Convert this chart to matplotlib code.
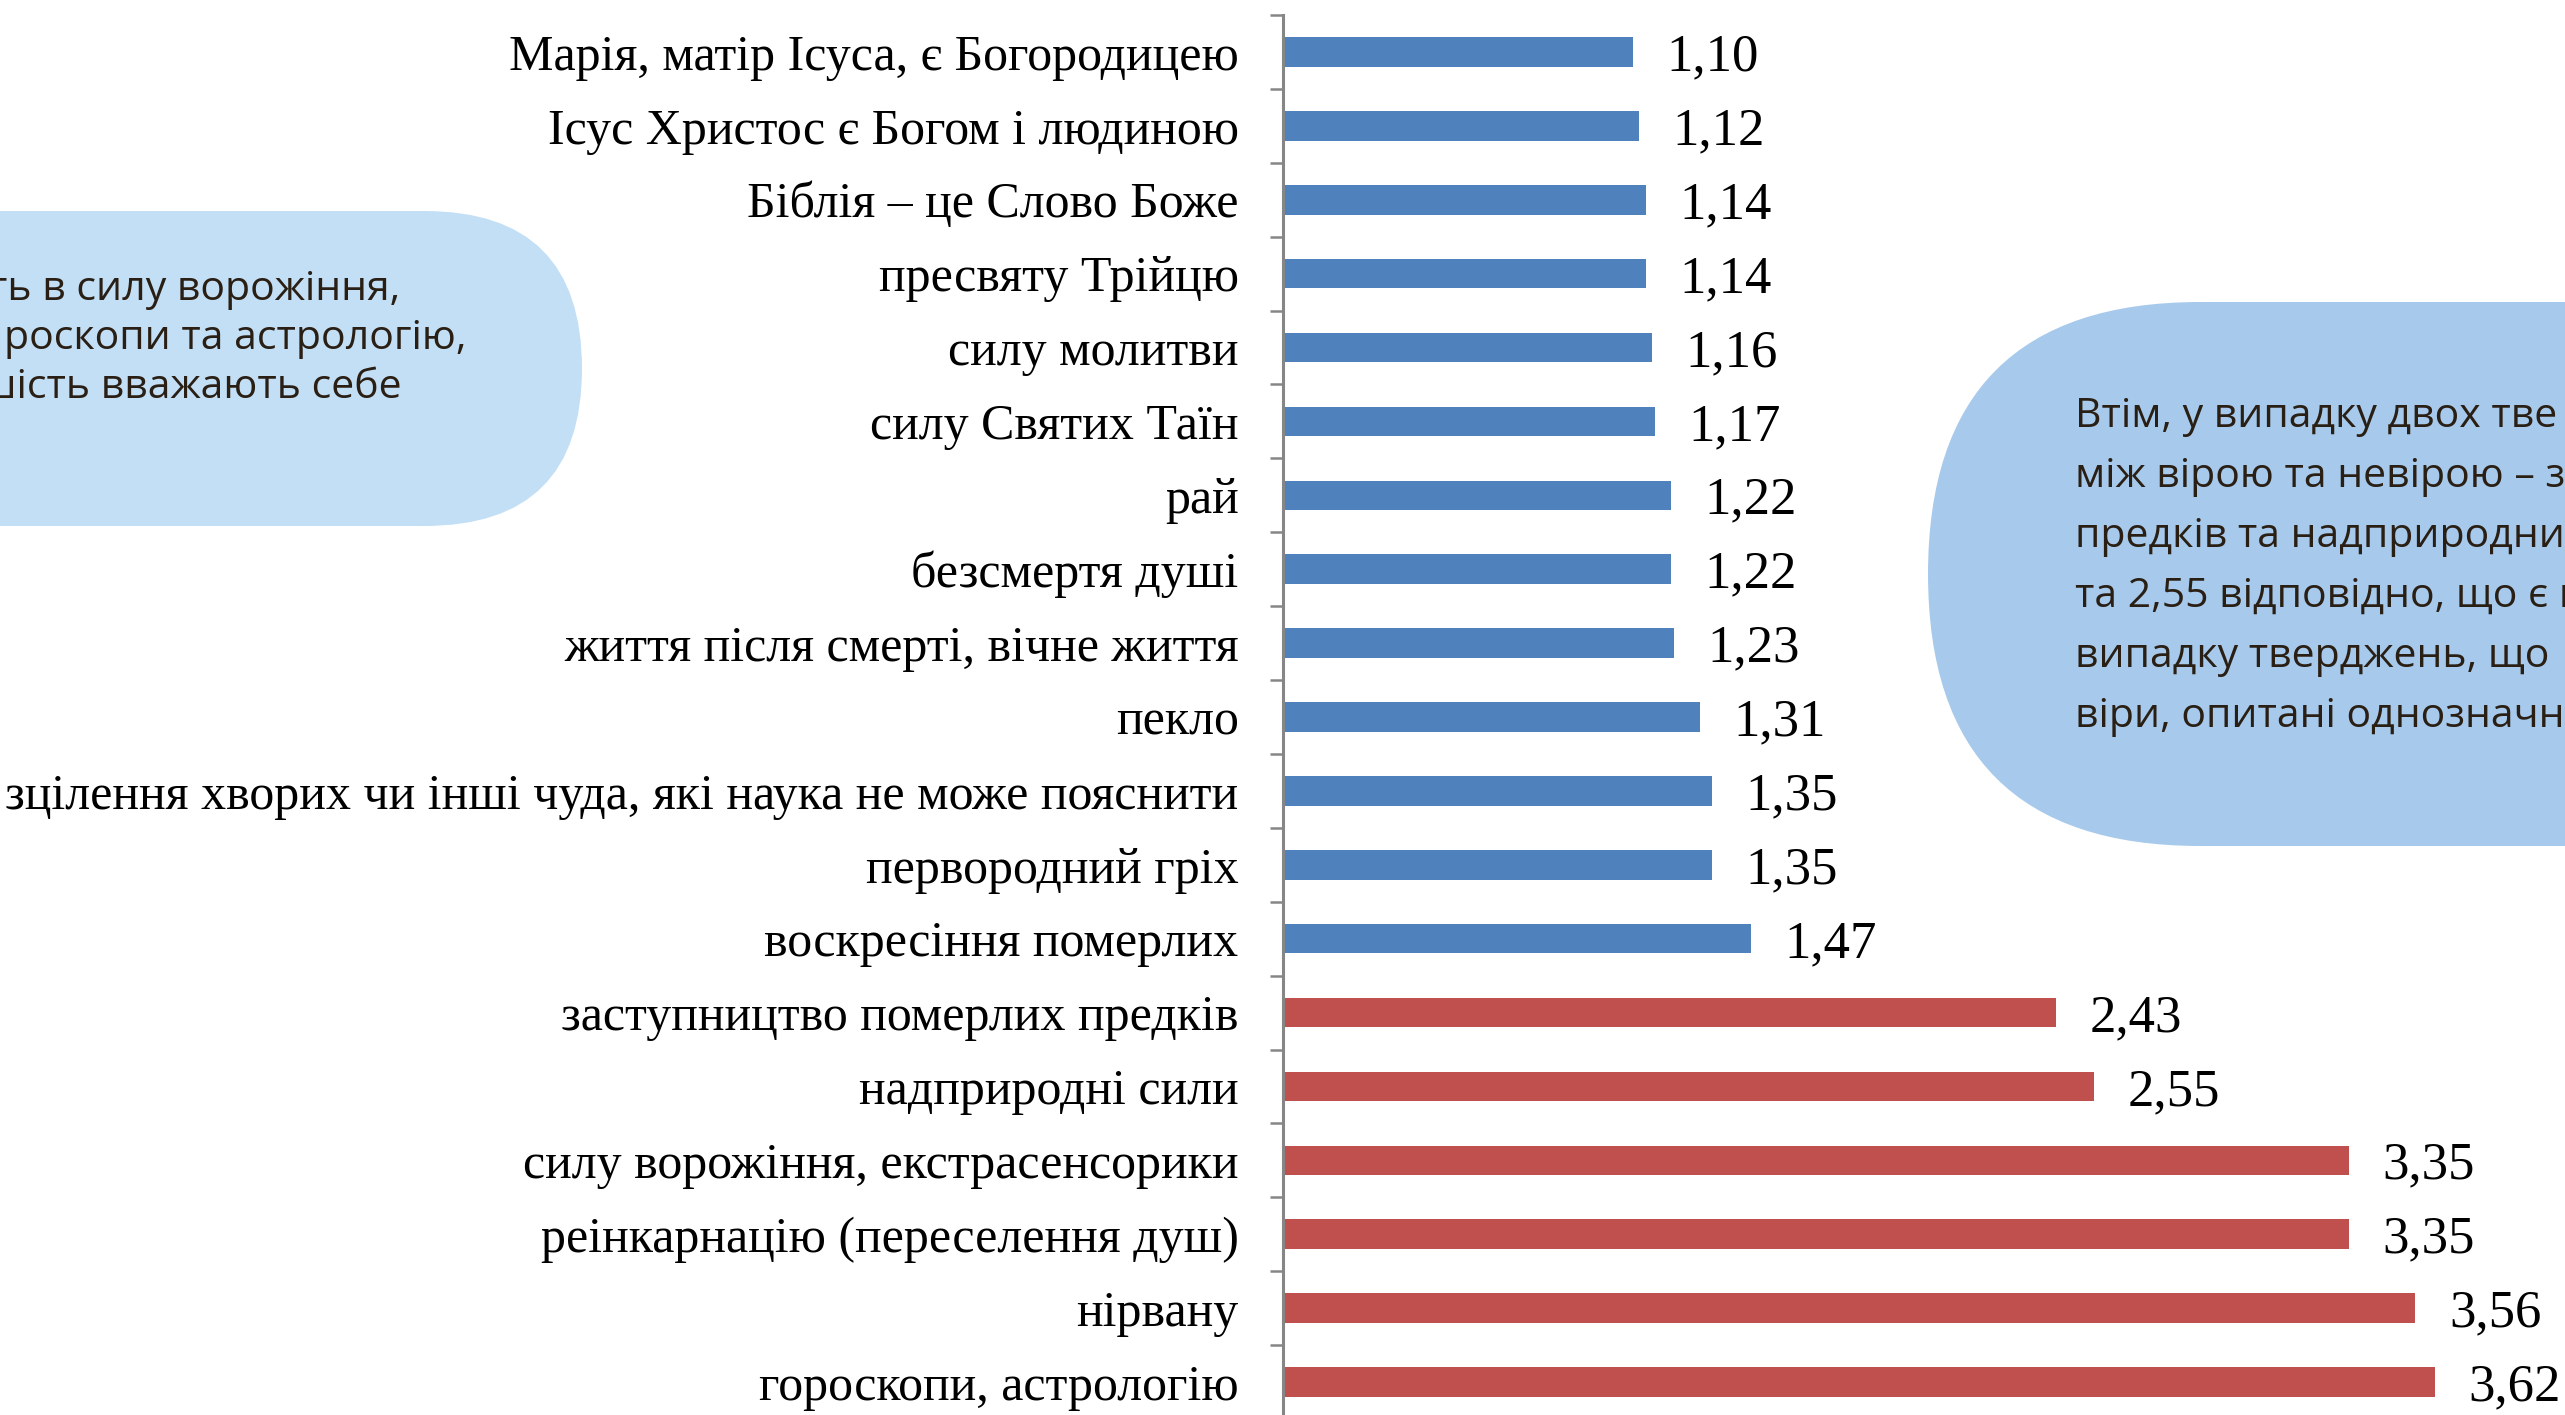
import numpy as np
import matplotlib.pyplot as plt
from matplotlib.patches import FancyBboxPatch

# Дані
labels = [
    "Марія, матір Ісуса, є Богородицею",
    "Ісус Христос є Богом і людиною",
    "Біблія – це Слово Боже",
    "пресвяту Трійцю",
    "силу молитви",
    "силу Святих Таїн",
    "рай",
    "безсмертя душі",
    "життя після смерті, вічне життя",
    "пекло",
    "зцілення хворих чи інші чуда, які наука не може пояснити",
    "первородний гріх",
    "воскресіння померлих",
    "заступництво померлих предків",
    "надприродні сили",
    "силу ворожіння, екстрасенсорики",
    "реінкарнацію (переселення душ)",
    "нірвану",
    "гороскопи, астрологію",
]
values = [1.10, 1.12, 1.14, 1.14, 1.16, 1.17, 1.22, 1.22, 1.23, 1.31,
          1.35, 1.35, 1.47, 2.43, 2.55, 3.35, 3.35, 3.56, 3.62]
groups = ["faith"] * 13 + ["other"] * 6

left_note = [
    "ть в силу ворожіння,",
    "роскопи та астрологію,",
    "шість вважають себе",
]
right_note = [
    "Втім, у випадку двох тве",
    "між вірою та невірою – з",
    "предків та надприродни",
    "та 2,55 відповідно, що є н",
    "випадку тверджень, що",
    "віри, опитані однозначн",
]

W, H = 2565, 1415
fig = plt.figure(figsize=(W / 100, H / 100), dpi=100)

# Фон з "бульбашками" (координати в пікселях)
bg = fig.add_axes([0, 0, 1, 1], zorder=-1)
bg.set_xlim(0, W)
bg.set_ylim(H, 0)
bg.axis("off")

bg.add_patch(FancyBboxPatch((-400, 211), 982, 315,
                            boxstyle="round,pad=0,rounding_size=157.5",
                            fc="#C3DFF5", ec="none"))
bg.add_patch(FancyBboxPatch((1928, 302), 1100, 544,
                            boxstyle="round,pad=0,rounding_size=272",
                            fc="#A7CAEC", ec="none"))

note_font = dict(family="Open Sans", fontsize=29.5, color="#2A1F14")
for txt, x_end, y in zip(left_note, [400, 466, 402], [300, 349, 398]):
    bg.text(x_end, y, txt, ha="right", va="baseline", **note_font)
for i, txt in enumerate(right_note):
    bg.text(2075, 427 + i * 60, txt, ha="left", va="baseline", **note_font)

# Діаграма
ax = fig.add_axes([1283 / W, -4 / H, 1 - 1283 / W, 1404 / H])
ax.set_facecolor("none")

y = np.arange(len(labels))
colors = ["#4F81BD" if g == "faith" else "#C0504D" for g in groups]
bars = ax.barh(y, values, height=0.4, color=colors)

vlabels = ax.bar_label(bars, labels=[f"{v:.2f}".replace(".", ",") for v in values],
                       padding=24, fontsize=38, family="Liberation Serif")
for t in vlabels:
    t.set_va("center_baseline")

ax.set_ylim(len(labels) - 0.5, -0.5)
ax.set_xlim(0, 4.03)
ax.set_yticks(y)
ax.set_yticklabels(labels, family="Liberation Serif", fontsize=36)
ax.set_yticks(np.arange(-0.5, len(labels), 1), minor=True)
ax.tick_params(axis="y", which="major", length=0, pad=32)
ax.tick_params(axis="y", which="minor", length=9.5, width=1.8, color="#868686")
ax.xaxis.set_visible(False)
for s in ["top", "right", "bottom"]:
    ax.spines[s].set_visible(False)
ax.spines["left"].set_color("#868686")
ax.spines["left"].set_linewidth(2.2)

fig.savefig("out.png", dpi=100)
